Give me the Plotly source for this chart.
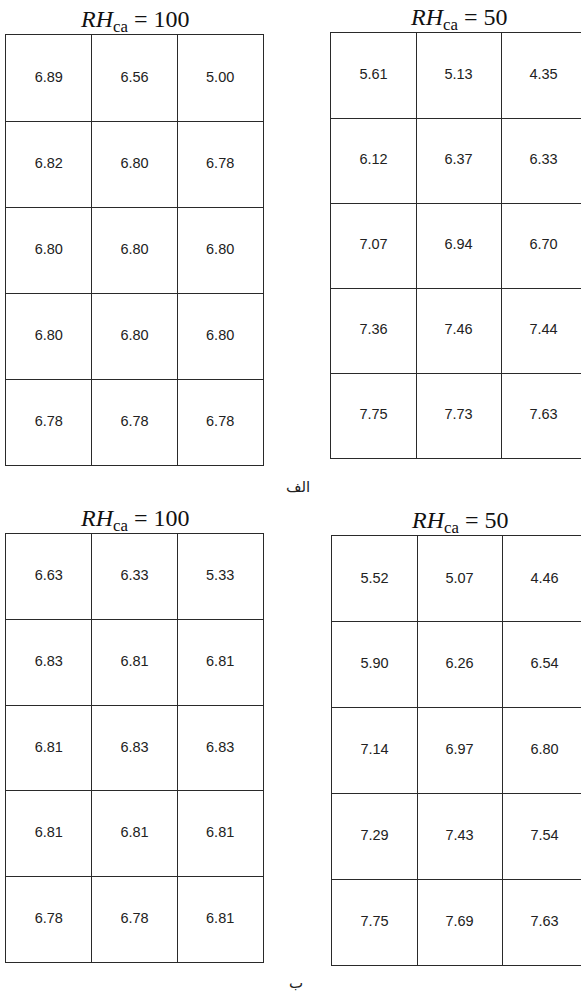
import plotly.graph_objects as go

W, H = 581, 998

# ---- data ----
cols = [0, 1, 2]
rows = [0, 1, 2, 3, 4]

alef_rh100 = [[6.89, 6.56, 5.00],
              [6.82, 6.80, 6.78],
              [6.80, 6.80, 6.80],
              [6.80, 6.80, 6.80],
              [6.78, 6.78, 6.78]]
alef_rh50 = [[5.61, 5.13, 4.35],
             [6.12, 6.37, 6.33],
             [7.07, 6.94, 6.70],
             [7.36, 7.46, 7.44],
             [7.75, 7.73, 7.63]]
be_rh100 = [[6.63, 6.33, 5.33],
            [6.83, 6.81, 6.81],
            [6.81, 6.83, 6.83],
            [6.81, 6.81, 6.81],
            [6.78, 6.78, 6.81]]
be_rh50 = [[5.52, 5.07, 4.46],
           [5.90, 6.26, 6.54],
           [7.14, 6.97, 6.80],
           [7.29, 7.43, 7.54],
           [7.75, 7.69, 7.63]]

titles = ["<i>RH</i><sub>ca</sub> = 100", "<i>RH</i><sub>ca</sub> = 50",
          "<i>RH</i><sub>ca</sub> = 100", "<i>RH</i><sub>ca</sub> = 50"]
group_labels = ["الف", "ب"]

# ---- layout geometry (pixels) ----
panels = [
    dict(vals=alef_rh100, x0=6, x1=263, y0=35, y1=465, right=True),
    dict(vals=alef_rh50, x0=331, x1=586, y0=33, y1=458, right=False),
    dict(vals=be_rh100, x0=6, x1=263, y0=534, y1=962, right=True),
    dict(vals=be_rh50, x0=332, x1=587, y0=536, y1=965, right=False),
]

fig = go.Figure()
line_col = "#2a2a2a"
annotations = []

for i, p in enumerate(panels):
    n = i + 1
    xa = "x" if n == 1 else f"x{n}"
    ya = "y" if n == 1 else f"y{n}"
    ncols = len(p["vals"][0])
    nrows = len(p["vals"])
    cw = (p["x1"] - p["x0"]) / ncols
    vis_x1 = min(p["x1"], W)
    xs, ys, txt = [], [], []
    for r in rows:
        for c in cols:
            xs.append(c + 0.5)
            ys.append(r + 0.5)
            txt.append(f"{p['vals'][r][c]:.2f}")
    fig.add_trace(go.Scatter(
        x=xs, y=ys, text=txt, mode="text", xaxis=xa, yaxis=ya,
        textfont=dict(family="Liberation Sans, Arial", size=14.5, color="#222222"),
        hoverinfo="skip", showlegend=False))
    xkey = "xaxis" if n == 1 else f"xaxis{n}"
    ykey = "yaxis" if n == 1 else f"yaxis{n}"
    fig.update_layout(**{
        xkey: dict(domain=[p["x0"] / W, vis_x1 / W],
                   range=[0, (vis_x1 - p["x0"]) / cw],
                   anchor=ya, showgrid=True, gridcolor=line_col, gridwidth=1,
                   tick0=0, dtick=1, showticklabels=False, ticks="",
                   zeroline=False, showline=True, mirror=True,
                   linecolor=line_col, linewidth=1, fixedrange=True),
        ykey: dict(domain=[1 - p["y1"] / H, 1 - p["y0"] / H],
                   range=[nrows, 0], anchor=xa,
                   showgrid=True, gridcolor=line_col, gridwidth=1,
                   tick0=0, dtick=1, showticklabels=False, ticks="",
                   zeroline=False, showline=True, mirror=p["right"],
                   linecolor=line_col, linewidth=1, fixedrange=True),
    })
    annotations.append(dict(
        text=titles[i], xref="paper", yref="paper",
        x=((p["x0"] + p["x1"]) / 2) / W, y=1 - (p["y0"] - 14) / H,
        xanchor="center", yanchor="middle", showarrow=False,
        font=dict(family="Liberation Serif, DejaVu Serif", size=24, color="#111111")))

annotations.append(dict(text=group_labels[0], xref="paper", yref="paper",
                        x=298 / W, y=1 - 487 / H, xanchor="center", yanchor="middle",
                        showarrow=False,
                        font=dict(family="DejaVu Sans", size=15, color="#222222")))
annotations.append(dict(text=group_labels[1], xref="paper", yref="paper",
                        x=296 / W, y=1 - 983 / H, xanchor="center", yanchor="middle",
                        showarrow=False,
                        font=dict(family="DejaVu Sans", size=15, color="#222222")))

fig.update_layout(width=W, height=H, margin=dict(l=0, r=0, t=0, b=0),
                  paper_bgcolor="white", plot_bgcolor="white",
                  annotations=annotations, showlegend=False)

fig.write_html("out.html", config={"displayModeBar": False},
               post_script="document.body.style.margin='0';document.body.style.overflow='hidden';")
